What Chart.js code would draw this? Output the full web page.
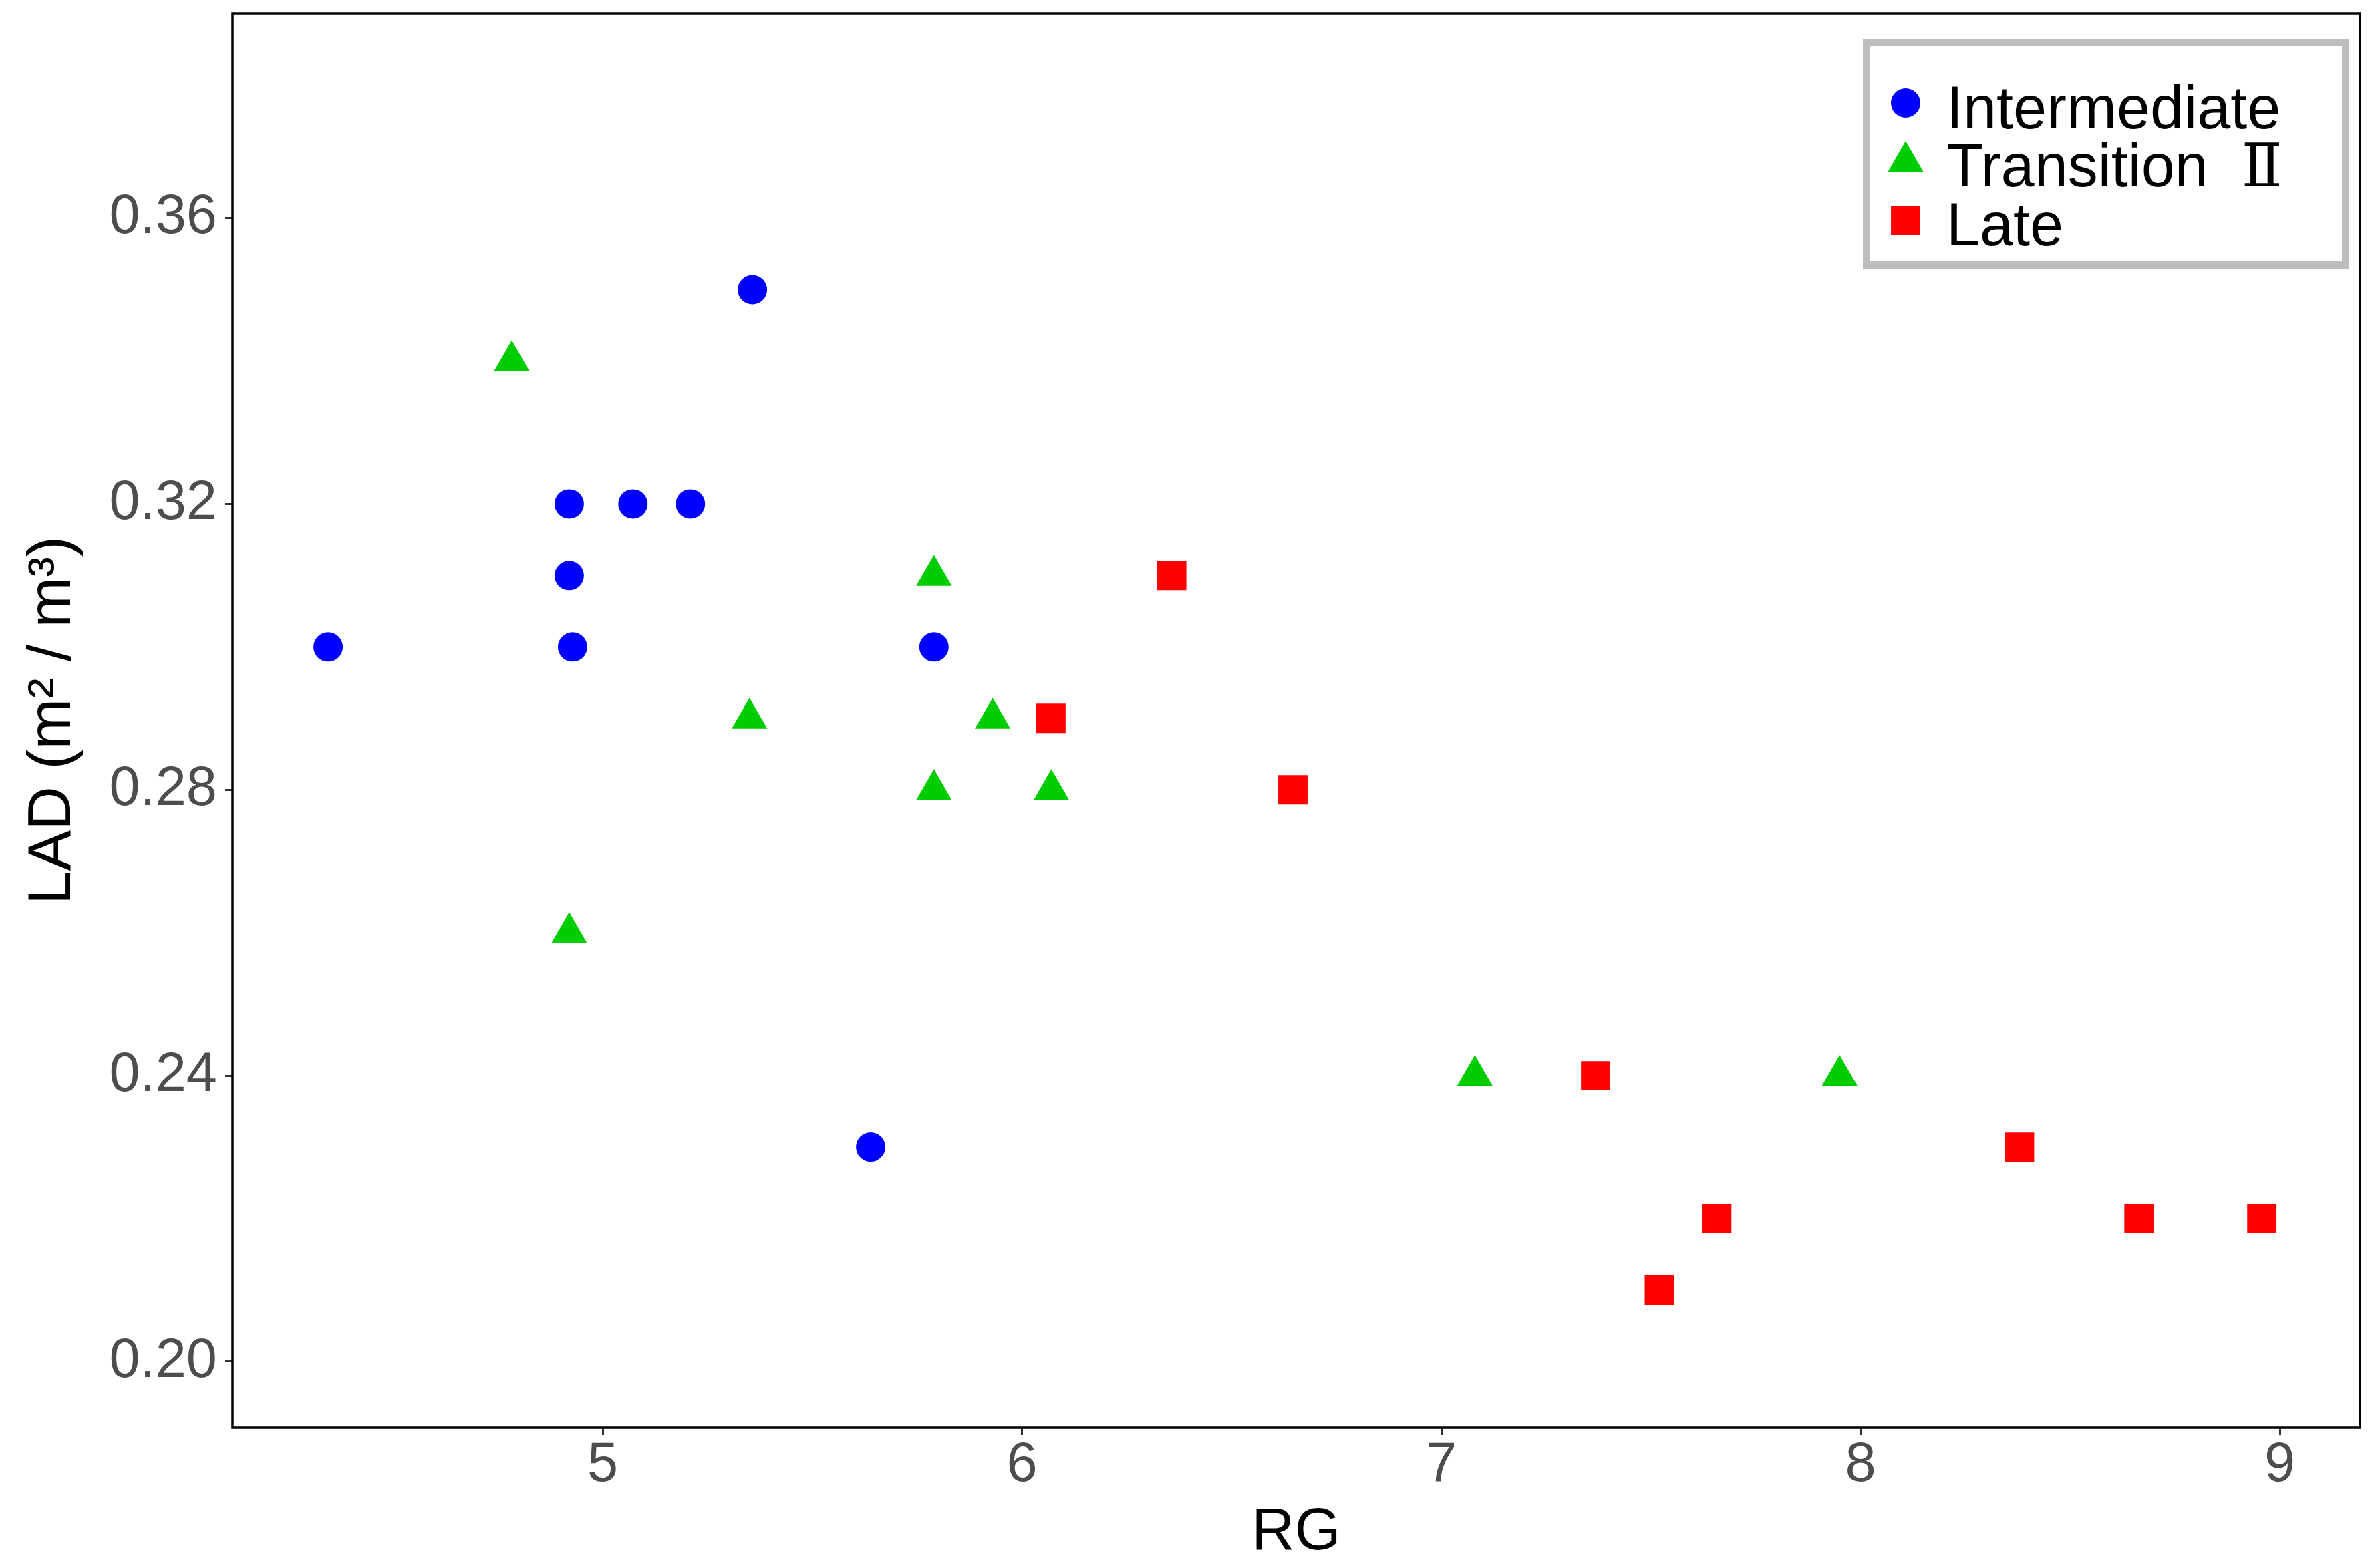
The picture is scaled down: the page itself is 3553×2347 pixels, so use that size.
<!DOCTYPE html>
<html>
<head>
<meta charset="utf-8">
<script src="https://cdn.jsdelivr.net/npm/chart.js@4.4.1/dist/chart.umd.min.js"></script>
<style>
html,body{margin:0;padding:0;background:#ffffff;}
#wrap{width:3553px;height:2347px;}
</style>
</head>
<body>
<div id="wrap"><canvas id="c" width="3553" height="2347"></canvas></div>
<script>
// ---- data ----
const seriesNames = ['Intermediate', 'Transition  Ⅱ', 'Late'];
const intermediateX = [4.345, 5.357, 4.92, 5.072, 5.209, 4.92, 4.928, 5.79, 5.639];
const intermediateY = [0.30, 0.35, 0.32, 0.32, 0.32, 0.31, 0.30, 0.30, 0.23];
const transitionX = [4.783, 5.79, 5.35, 5.93, 5.79, 6.07, 4.92, 7.08, 7.95];
const transitionY = [0.34, 0.31, 0.29, 0.29, 0.28, 0.28, 0.26, 0.24, 0.24];
const lateX = [6.357, 6.069, 6.646, 7.368, 8.379, 7.657, 7.52, 8.664, 8.957];
const lateY = [0.31, 0.29, 0.28, 0.24, 0.23, 0.22, 0.21, 0.22, 0.22];
const xTicks = [5, 6, 7, 8, 9];
const xTickLabels = ['5', '6', '7', '8', '9'];
const yTicks = [0.20, 0.24, 0.28, 0.32, 0.36];
const yTickLabels = ['0.20', '0.24', '0.28', '0.32', '0.36'];
const xTitle = 'RG';
const yTitle = 'LAD (m² / m³)';

const toPts = (xs, ys) => xs.map((x, i) => ({x: x, y: ys[i]}));
const FONT = 'Liberation Sans, Arial, sans-serif';
const LEGEND_FONT = '"Liberation Sans", "DejaVu Serif", "Noto Serif CJK SC", serif';

const panelBorder = {
  id: 'panelBorder',
  afterDatasetsDraw(chart) {
    const {ctx, chartArea: a} = chart;
    ctx.save();
    ctx.strokeStyle = '#000000';
    ctx.lineWidth = 3.5;
    ctx.strokeRect(a.left, a.top, a.right - a.left, a.bottom - a.top);
    ctx.restore();
  }
};

function drawMarker(ctx, style, x, y, r, color) {
  ctx.save();
  ctx.fillStyle = color;
  ctx.beginPath();
  if (style === 'circle') {
    ctx.arc(x, y, r, 0, Math.PI * 2);
  } else if (style === 'triangle') {
    for (let k = 0; k < 3; k++) {
      const a = k * 2 * Math.PI / 3;
      const px = x + Math.sin(a) * r, py = y - Math.cos(a) * r;
      if (k === 0) ctx.moveTo(px, py); else ctx.lineTo(px, py);
    }
    ctx.closePath();
  } else {
    const s = r * Math.SQRT1_2;
    ctx.rect(x - s, y - s, 2 * s, 2 * s);
  }
  ctx.fill();
  ctx.restore();
}

const legendBox = {
  id: 'legendBox',
  afterDraw(chart) {
    const ctx = chart.ctx;
    ctx.save();
    ctx.fillStyle = '#ffffff';
    ctx.fillRect(2788, 58, 728, 344);
    ctx.strokeStyle = '#bebebe';
    ctx.lineWidth = 11;
    ctx.strokeRect(2793.5, 63.5, 717, 333);
    const rowsSym = [154, 242, 330];
    const rowsTxt = [192, 279, 367];
    chart.data.datasets.forEach((ds, i) => {
      drawMarker(ctx, ds.pointStyle, 2852, rowsSym[i], ds.pointRadius, ds.backgroundColor);
      ctx.fillStyle = '#000000';
      ctx.font = '90px ' + LEGEND_FONT;
      ctx.textBaseline = 'alphabetic';
      ctx.textAlign = 'left';
      ctx.fillText(ds.label, 2913, rowsTxt[i]);
    });
    ctx.restore();
  }
};

new Chart(document.getElementById('c'), {
  type: 'scatter',
  data: {
    datasets: [
      {label: seriesNames[0], data: toPts(intermediateX, intermediateY), pointStyle: 'circle', pointRadius: 22, backgroundColor: '#0000ff', borderColor: '#0000ff', pointBorderWidth: 0},
      {label: seriesNames[1], data: toPts(transitionX, transitionY), pointStyle: 'triangle', pointRadius: 30.9, backgroundColor: '#00cd00', borderColor: '#00cd00', pointBorderWidth: 0},
      {label: seriesNames[2], data: toPts(lateX, lateY), pointStyle: 'rect', pointRadius: 31, backgroundColor: '#ff0000', borderColor: '#ff0000', pointBorderWidth: 0}
    ]
  },
  options: {
    responsive: false,
    devicePixelRatio: 1,
    animation: false,
    events: [],
    layout: {autoPadding: false, padding: {left: 0, right: 21, top: 20, bottom: 0}},
    plugins: {legend: {display: false}, tooltip: {enabled: false}},
    scales: {
      x: {
        type: 'linear', min: 4.117, max: 9.191,
        afterBuildTicks: s => { s.ticks = xTicks.map(v => ({value: v})); },
        afterFit: s => { s.height = 210; s.paddingLeft = 0; s.paddingRight = 0; s.paddingTop = 0; s.paddingBottom = 0; },
        grid: {display: true, drawOnChartArea: false, drawTicks: true, tickLength: 11, tickWidth: 3, tickColor: '#333333'},
        border: {display: false},
        ticks: {autoSkip: false, maxRotation: 0, padding: 5, color: '#4d4d4d', font: {family: FONT, size: 83, lineHeight: 1}, callback: (v, i) => xTickLabels[i]},
        title: {display: true, text: xTitle, color: '#000000', font: {family: FONT, size: 89, lineHeight: 1}, padding: {top: 0, bottom: 8}}
      },
      y: {
        type: 'linear', min: 0.19074, max: 0.38866,
        afterBuildTicks: s => { s.ticks = yTicks.map(v => ({value: v})); },
        afterFit: s => { s.width = 348; s.paddingLeft = 0; s.paddingRight = 0; s.paddingTop = 0; s.paddingBottom = 0; },
        grid: {display: true, drawOnChartArea: false, drawTicks: true, tickLength: 11, tickWidth: 3, tickColor: '#333333'},
        border: {display: false},
        ticks: {autoSkip: false, padding: 12, color: '#4d4d4d', font: {family: FONT, size: 83, lineHeight: 1}, callback: (v, i) => yTickLabels[i]},
        title: {display: true, text: yTitle, color: '#000000', font: {family: FONT, size: 91, lineHeight: 1}, padding: {top: 34, bottom: 0}}
      }
    }
  },
  plugins: [panelBorder, legendBox]
});
</script>
</body>
</html>
